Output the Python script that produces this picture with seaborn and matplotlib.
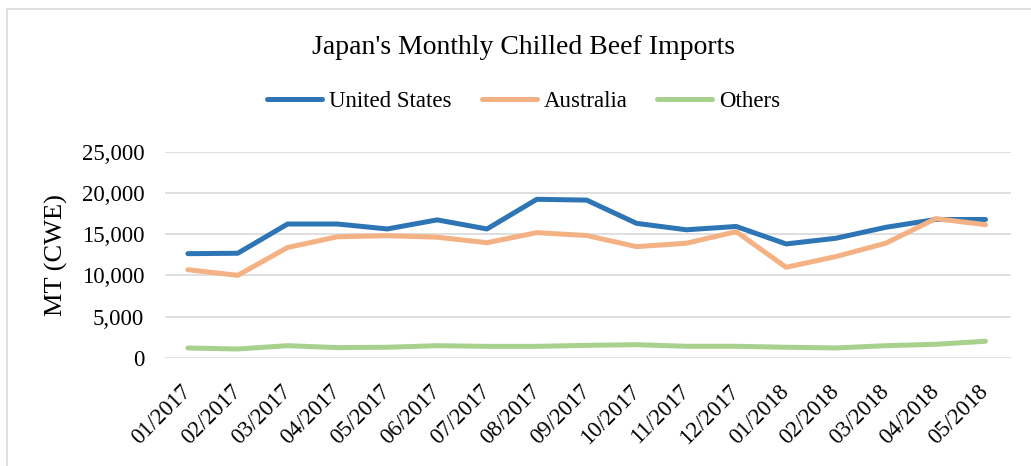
import pandas as pd
import numpy as np
import matplotlib
matplotlib.use('Agg')
import matplotlib.pyplot as plt
import seaborn as sns
from matplotlib.patches import Rectangle


# datos (toneladas, CWE)
meses = ['01/2017', '02/2017', '03/2017', '04/2017', '05/2017', '06/2017',
         '07/2017', '08/2017', '09/2017', '10/2017', '11/2017', '12/2017',
         '01/2018', '02/2018', '03/2018', '04/2018', '05/2018']

united_states = [12650, 12700, 16250, 16250, 15650, 16750, 15650, 19250, 19150,
                 16330, 15550, 15950, 13830, 14520, 15850, 16800, 16800]
australia = [10700, 10020, 13400, 14700, 14830, 14650, 13980, 15200, 14850,
             13500, 13920, 15320, 11000, 12300, 13920, 16900, 16170]
others = [1200, 1080, 1480, 1250, 1290, 1480, 1400, 1400, 1520,
          1600, 1410, 1410, 1290, 1210, 1480, 1650, 2020]

series = ['United States', 'Australia', 'Others']
colores = ['#2E75B6', '#F4B183', '#A9D18E']
y_ticks = [0, 5000, 10000, 15000, 20000, 25000]

df = pd.DataFrame({
    'Mes': meses * 3,
    'Serie': np.repeat(series, len(meses)),
    'Valor': united_states + australia + others,
})
df['pos'] = df.groupby('Serie').cumcount()

sns.set_style('white')
plt.rcParams['font.family'] = ['Liberation Serif', 'DejaVu Serif']
plt.rcParams['text.color'] = 'black'
plt.rcParams['xtick.color'] = 'black'
plt.rcParams['ytick.color'] = 'black'
plt.rcParams['axes.labelcolor'] = 'black'

fig = plt.figure(figsize=(10.31, 4.66), dpi=100)
ax = fig.add_axes([0.160, 0.232, 0.821, 0.442])

sns.lineplot(data=df, x='pos', y='Valor', hue='Serie', hue_order=series,
             palette=colores, linewidth=3.6, ax=ax, sort=False,
             solid_capstyle='round')

ax.set_xlim(-0.46, len(meses) - 0.48)
ax.set_ylim(0, 25000)
ax.set_yticks(y_ticks)
ax.set_yticklabels([f'{v:,}' for v in y_ticks], fontsize=16.5)
ax.set_xticks(range(len(meses)))
ax.set_xticklabels(meses, rotation=45, ha='right', va='center',
                   rotation_mode='anchor', fontsize=16.5)
ax.tick_params(axis='y', length=0, pad=15)
ax.tick_params(axis='x', length=0, pad=22)
ax.set_xlabel('')
ax.set_ylabel('MT (CWE)', fontsize=19, labelpad=10)
ax.grid(axis='y', color='#D9D9D9', linewidth=1.2)
ax.set_axisbelow(True)
for s in ax.spines.values():
    s.set_visible(False)

fig.text(0.508, 0.898, "Japan's Monthly Chilled Beef Imports",
         ha='center', va='center', fontsize=20)

handles, labels = ax.get_legend_handles_labels()
ax.legend(handles, labels, ncol=3, frameon=False, fontsize=16.5,
          loc='center', bbox_to_anchor=(0.508, 0.783),
          bbox_transform=fig.transFigure, handlelength=2.4,
          handletextpad=0.3, columnspacing=1.3)

fig.patches.append(Rectangle((0.007, -0.01), 1.0, 0.99, transform=fig.transFigure,
                             fill=False, edgecolor='#D9D9D9', linewidth=1.2))

fig.savefig('out.png', dpi=100)
